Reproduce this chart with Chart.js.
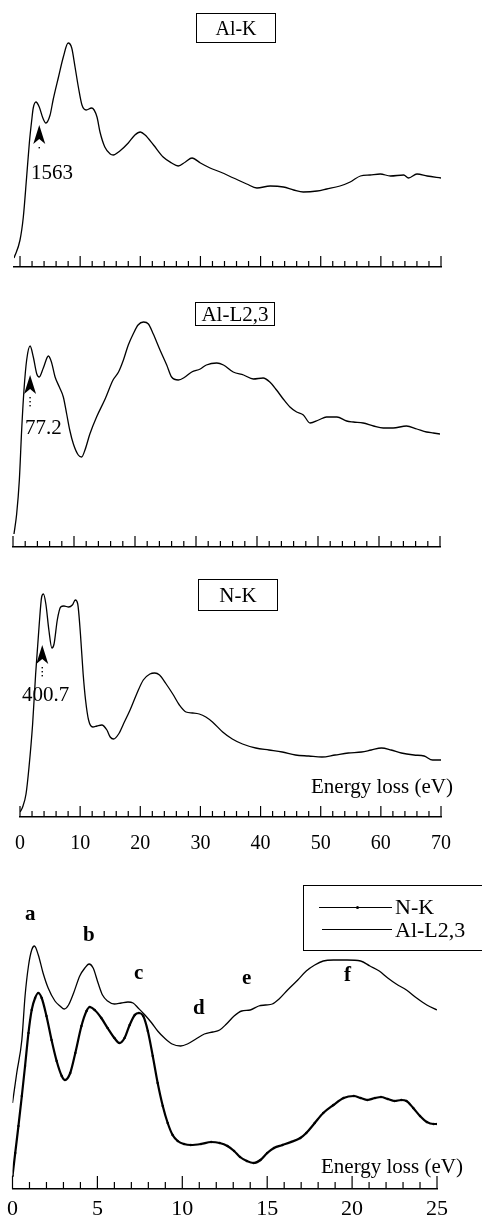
<!DOCTYPE html>
<html>
<head>
<meta charset="utf-8">
<script src="https://cdn.jsdelivr.net/npm/chart.js@4/dist/chart.umd.min.js"></script>
<style>
    body { margin: 0; background: #fff; }
    #page { position: relative; width: 482px; height: 1226px; overflow: hidden;
        font-family: "Liberation Serif", "Times New Roman", serif; color: #000; }
    .panel { position: absolute; left: 0; width: 482px; }
    .tag { position: absolute; border: 1px solid #000; text-align: center; box-sizing: border-box; }
    .txt { position: absolute; white-space: nowrap; line-height: 1; }
    .peak { position: absolute; white-space: nowrap; line-height: 1; font-size: 21px; font-weight: bold; }
    .leg { position: absolute; left: 303px; top: 885px; width: 200px; height: 66px;
        border: 1px solid #000; box-sizing: border-box; }
    .legline { position: absolute; height: 0; border-top: 1.3px solid #000; }
</style>
</head>
<body>
<div id="page">
    <div class="panel" style="top: 20px; height: 260px;"><canvas id="alK"></canvas></div>
    <div class="panel" style="top: 300px; height: 260px;"><canvas id="alL"></canvas></div>
    <div class="panel" style="top: 570px; height: 290px;"><canvas id="nK"></canvas></div>
    <div class="panel" style="top: 920px; height: 306px;"><canvas id="cmp"></canvas></div>

    <div class="tag" style="left: 196px; top: 13px; width: 80px; height: 30px; line-height: 28px; font-size: 20px;">Al-K</div>
    <div class="tag" style="left: 195px; top: 302px; width: 80px; height: 24px; line-height: 22px; font-size: 21px;">Al-L2,3</div>
    <div class="tag" style="left: 198px; top: 579px; width: 80px; height: 32px; line-height: 30px; font-size: 21px;">N-K</div>

    <div class="txt" style="left: 31px; top: 162px; font-size: 21px;">1563</div>
    <div class="txt" style="left: 25px; top: 417px; font-size: 21px;">77.2</div>
    <div class="txt" style="left: 22px; top: 684px; font-size: 21px;">400.7</div>
    <div class="txt" style="left: 311px; top: 776px; font-size: 21px;">Energy loss (eV)</div>
    <div class="txt" style="left: 321px; top: 1156px; font-size: 21px;">Energy loss (eV)</div>

    <div class="peak" style="left: 25px; top: 903px;">a</div>
    <div class="peak" style="left: 83px; top: 924px;">b</div>
    <div class="peak" style="left: 134px; top: 962px;">c</div>
    <div class="peak" style="left: 193px; top: 997px;">d</div>
    <div class="peak" style="left: 242px; top: 967px;">e</div>
    <div class="peak" style="left: 344px; top: 964px;">f</div>

    <div class="leg"></div>
    <div class="legline" style="left: 319px; top: 907px; width: 73px;"></div>
    <div style="position: absolute; left: 356px; top: 906px; width: 3px; height: 3px; border-radius: 50%; background: #000;"></div>
    <div class="legline" style="left: 322px; top: 929px; width: 70px;"></div>
    <div class="txt" style="left: 395px; top: 896px; font-size: 22px;">N-K</div>
    <div class="txt" style="left: 395px; top: 919px; font-size: 22px;">Al-L2,3</div>
</div>
<script>
// Al-K edge (onset 1563 eV)
const alKEnergy = [-1.0, 0, 0.55, 1.1, 1.55, 1.95, 2.2, 2.65, 3.2, 3.8, 4.3, 5.0, 5.5, 6.4, 7.2,
    8.0, 8.6, 9.15, 9.7, 10.3, 11.0, 11.9, 12.8, 13.3, 14.1, 15.0, 15.5, 16.6, 18.0, 19.1, 20.0,
    20.8, 22.2, 23.8, 25.2, 26.3, 27.5, 28.6, 30.0, 31.6, 33.3, 35.5, 37.7, 39.4, 41.6, 43.8, 45.5,
    47.1, 49.4, 51.0, 53.2, 54.9, 56.6, 58.2, 59.9, 61.6, 63.8, 64.6, 66.0, 67.7, 70.0];
const alKIntensity = [9, 27, 50, 90, 124, 147, 159, 165, 160, 149, 144, 152, 167, 190, 210,
    224, 219, 200, 180, 162, 157, 159, 150, 135, 120, 113, 112, 116, 124, 132, 135,
    132, 122, 110, 104, 101, 105, 109, 104, 99, 95, 89, 83, 79, 81, 80, 77,
    75, 76, 78, 81, 85, 91, 92, 93, 91, 92, 89, 93, 91, 89];

// Al-L2,3 edge (onset 77.2 eV)
const alLEnergy = [0.16, 0.6, 1.04, 1.42, 1.8, 2.24, 2.8, 3.33, 3.9, 4.3, 4.97, 5.8, 6.3, 6.9,
    7.6, 8.25, 8.8, 9.3, 9.9, 10.7, 11.25, 11.8, 12.6, 13.7, 15.1, 16.4, 17.3, 18.1, 18.9, 19.7,
    20.5, 21.4, 22.2, 23.0, 24.1, 25.2, 26.0, 27.1, 28.2, 29.3, 30.7, 31.7, 33.4, 34.5, 36.1, 37.8,
    39.4, 41.0, 42.1, 43.2, 44.3, 45.4, 46.5, 47.6, 48.7, 50.1, 51.4, 53.1, 54.7, 55.8, 57.4, 59.1,
    60.7, 62.3, 64.5, 66.2, 67.8, 68.9, 70.0];
const alLIntensity = [13, 33, 67, 117, 157, 187, 201, 190, 173, 170, 179, 191, 185, 170,
    160, 150, 133, 117, 103, 92, 90, 97, 113, 130, 148, 167, 175, 187, 202, 213,
    222, 225, 223, 213, 197, 182, 170, 167, 170, 175, 178, 182, 184, 182, 175, 172,
    168, 169, 165, 157, 148, 140, 135, 132, 124, 127, 130, 130, 126, 125, 124, 121,
    119, 119, 121, 118, 115, 114, 113];

// N-K edge (onset 400.7 eV)
const nKEnergy = [0, 0.44, 1.0, 1.5, 2.1, 2.6, 3.2, 3.6, 3.9, 4.3, 4.8, 5.3, 5.66, 6.2, 6.76,
    7.3, 8.1, 8.7, 9.2, 9.6, 10.05, 10.5, 10.9, 11.4, 12.1, 12.8, 13.6, 14.45, 15.0, 15.55, 16.4,
    17.2, 18.3, 19.4, 20.5, 21.6, 22.4, 23.2, 24.3, 25.4, 26.5, 27.6, 28.7, 29.8, 30.9, 32.0, 33.7,
    35.3, 37.0, 39.2, 41.4, 43.6, 45.8, 48.0, 50.2, 52.4, 54.6, 56.8, 58.4, 60.1, 61.7, 63.4, 65.5,
    67.2, 68.6, 70.0];
const nKIntensity = [5, 10, 23, 50, 93, 143, 193, 220, 223, 213, 187, 169, 173, 197, 210,
    211, 210, 212, 217, 213, 183, 143, 117, 97, 90, 91, 92, 87, 80, 78, 83,
    93, 107, 123, 137, 143, 144, 142, 133, 123, 112, 105, 104, 103, 100, 95, 85,
    78, 73, 69, 67, 65, 62, 61, 60, 62, 64, 65, 67, 69, 67, 64, 62,
    61, 57, 57];

// comparison panel, first 25 eV
const cmpAlEnergy = [0, 0.25, 0.55, 0.74, 0.94, 1.13, 1.29, 1.52, 1.8, 2.1, 2.5, 2.8, 3.05, 3.3,
    3.6, 3.96, 4.26, 4.51, 4.75, 5.04, 5.3, 5.6, 6.0, 6.4, 6.8, 7.1, 7.4, 7.8, 8.2, 8.55, 8.95,
    9.4, 9.9, 10.3, 10.8, 11.3, 11.8, 12.2, 12.6, 13.05, 13.5, 14.0, 14.5, 14.9, 15.3, 15.7, 16.2,
    16.8, 17.3, 17.8, 18.3, 18.9, 19.7, 20.5, 21.05, 21.6, 22.1, 22.6, 23.2, 23.8, 24.4, 25.0];
const cmpAlIntensity = [86, 116, 149, 193, 223, 239, 243, 234, 216, 201, 188, 183, 180, 184,
    196, 213, 221, 225, 221, 206, 194, 188, 185, 186, 187, 186, 181, 174, 166, 158, 151,
    145, 143, 145, 150, 155, 157, 159, 165, 173, 178, 179, 183, 184, 185, 190, 199,
    209, 218, 224, 228, 229, 229, 228, 223, 218, 211, 205, 199, 191, 184, 179];
const cmpNEnergy = [0, 0.16, 0.35, 0.55, 0.74, 0.94, 1.13, 1.33, 1.52, 1.72, 2.0, 2.3, 2.6, 2.9,
    3.09, 3.4, 3.7, 4.06, 4.36, 4.55, 4.84, 5.23, 5.6, 6.0, 6.3, 6.6, 6.9, 7.2, 7.44, 7.7, 7.97,
    8.26, 8.55, 8.85, 9.14, 9.43, 9.73, 10.1, 10.5, 11.1, 11.7, 12.2, 12.66, 13.05, 13.4, 13.8,
    14.2, 14.6, 15.0, 15.4, 15.9, 16.4, 16.95, 17.3, 17.8, 18.3, 18.9, 19.5, 20.1, 20.5, 20.9,
    21.35, 21.7, 22.1, 22.5, 22.9, 23.2, 23.6, 24.0, 24.4, 24.8, 25.0];
const cmpNIntensity = [13, 36, 63, 93, 123, 156, 179, 191, 196, 191, 173, 149, 128, 113,
    109, 116, 136, 163, 178, 182, 179, 171, 161, 151, 146, 151, 164, 174, 176, 173, 158,
    133, 106, 83, 66, 54, 48, 45, 44, 45, 47, 46, 43, 38, 32, 28,
    26, 29, 36, 41, 44, 47, 51, 56, 66, 76, 84, 91, 93, 91, 89,
    91, 92, 90, 88, 89, 88, 81, 73, 67, 65, 65];

const serif = "Liberation Serif";

function toPoints(xs, ys) {
    return xs.map((x, i) => ({ x: x, y: ys[i] }));
}

// inward tick marks + onset arrow
const panelMarks = {
    id: "panelMarks",
    afterDraw(chart, args, opts) {
        const ctx = chart.ctx;
        const sx = chart.scales.x;
        const sy = chart.scales.y;
        const base = chart.chartArea.bottom;
        ctx.save();
        ctx.strokeStyle = "#000";
        ctx.fillStyle = "#000";
        ctx.lineWidth = 1.2;
        for (let v = 0; v <= sx.max + 1e-6; v += opts.minor) {
            const px = sx.getPixelForValue(v);
            const r = v / opts.major;
            const len = Math.abs(r - Math.round(r)) < 1e-6 ? opts.majorLen : opts.minorLen;
            ctx.beginPath();
            ctx.moveTo(px, base);
            ctx.lineTo(px, base - len);
            ctx.stroke();
        }
        if (opts.arrow) {
            const ax = sx.getPixelForValue(opts.arrow.x);
            const ay = sy.getPixelForValue(opts.arrow.y);
            ctx.beginPath();
            ctx.moveTo(ax, ay);
            ctx.lineTo(ax - 6, ay + 19);
            ctx.lineTo(ax, ay + 14);
            ctx.lineTo(ax + 6, ay + 19);
            ctx.closePath();
            ctx.fill();
            for (let i = 0; i < opts.arrow.dots; i++) {
                ctx.fillRect(ax - 0.7, ay + 22 + i * 4, 1.4, 1.4);
            }
        }
        ctx.restore();
    },
};

function makePanel(id, datasets, conf) {
    return new Chart(document.getElementById(id), {
        type: "line",
        data: { datasets: datasets },
        plugins: [panelMarks],
        options: {
            animation: false,
            responsive: true,
            maintainAspectRatio: false,
            layout: { padding: conf.padding },
            plugins: {
                legend: { display: false },
                tooltip: { enabled: false },
                panelMarks: {
                    minor: conf.minor,
                    major: conf.major,
                    minorLen: conf.minorLen,
                    majorLen: conf.majorLen,
                    arrow: conf.arrow,
                },
            },
            scales: {
                x: {
                    type: "linear",
                    min: conf.xMin,
                    max: conf.xMax,
                    afterFit: (scale) => {
                        scale.height = conf.axisHeight;
                    },
                    grid: { display: false, drawTicks: false },
                    border: { display: true, color: "#000", width: 1.5 },
                    ticks: {
                        display: conf.labels,
                        stepSize: conf.major,
                        padding: conf.labelPad,
                        color: "#000",
                        font: { family: serif, size: conf.labelSize },
                        maxRotation: 0,
                    },
                },
                y: {
                    display: false,
                    min: 0,
                    max: conf.yMax,
                },
            },
        },
    });
}

function line(xs, ys, extra) {
    return Object.assign({
        data: toPoints(xs, ys),
        borderColor: "#000",
        borderWidth: 1.3,
        pointRadius: 0,
        cubicInterpolationMode: "monotone",
        fill: false,
    }, extra || {});
}

function main() {
    makePanel("alK", [line(alKEnergy, alKIntensity)], {
        padding: { left: 14, right: 41, top: 7, bottom: 0 },
        xMin: -1, xMax: 70, yMax: 240, axisHeight: 13, labels: false,
        minor: 2, major: 10, minorLen: 6, majorLen: 11,
        arrow: { x: 3.2, y: 142, dots: 1 },
    });
    makePanel("alL", [line(alLEnergy, alLIntensity)], {
        padding: { left: 13, right: 42, top: 7, bottom: 0 },
        xMin: 0, xMax: 70, yMax: 240, axisHeight: 13, labels: false,
        minor: 2, major: 10, minorLen: 6, majorLen: 11,
        arrow: { x: 2.8, y: 172, dots: 3 },
    });
    makePanel("nK", [line(nKEnergy, nKIntensity)], {
        padding: { left: 15, right: 41, top: 7, bottom: 0 },
        xMin: 0, xMax: 70, yMax: 240, axisHeight: 43, labels: true,
        labelPad: 15, labelSize: 20,
        minor: 2, major: 10, minorLen: 6, majorLen: 11,
        arrow: { x: 3.7, y: 172, dots: 3 },
    });
    makePanel("cmp", [
        line(cmpNEnergy, cmpNIntensity, {
            borderWidth: 2.2,
            pointRadius: 1.2,
            pointBackgroundColor: "#000",
            pointBorderWidth: 0,
        }),
        line(cmpAlEnergy, cmpAlIntensity),
    ], {
        padding: { left: 11, right: 45, top: 9, bottom: 0 },
        xMin: 0, xMax: 25, yMax: 260, axisHeight: 37, labels: true,
        labelPad: 7, labelSize: 22,
        minor: 1, major: 5, minorLen: 7, majorLen: 13,
        arrow: null,
    });
}

main();
</script>
</body>
</html>
